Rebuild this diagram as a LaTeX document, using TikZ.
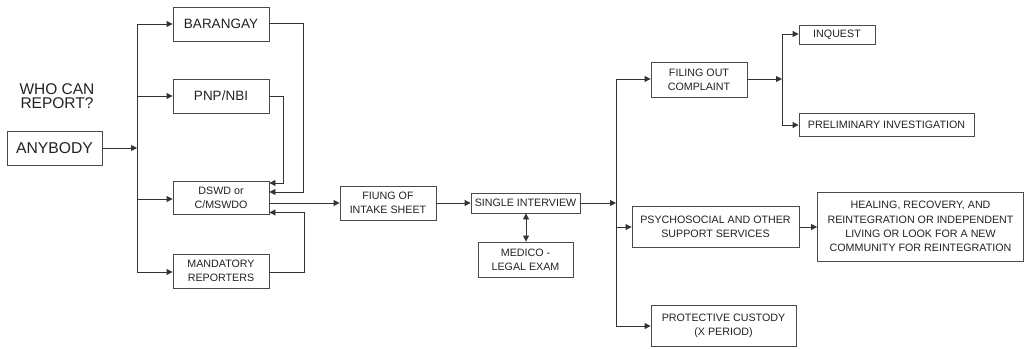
\documentclass[tikz,border=0pt]{standalone}
\usepackage{fontspec}
\setmainfont{Liberation Sans}
\usetikzlibrary{arrows.meta}
\definecolor{ln}{HTML}{333333}
\definecolor{bx}{HTML}{4A4A4A}
\definecolor{tx}{HTML}{222222}
\tikzset{
  box/.style={draw=bx, line width=0.9pt, text=tx, align=center, inner sep=1pt, font=\fontsize{10.7}{14.2}\selectfont},
  bigbox/.style={box, font=\fontsize{13.5}{15}\selectfont},
  conn/.style={draw=ln, line width=0.9pt},
  arr/.style={conn, -{Triangle[length=6pt,width=6pt]}},
  darr/.style={conn, {Triangle[length=6pt,width=6pt]}-{Triangle[length=6pt,width=6pt]}}
}
\begin{document}
\begin{tikzpicture}[x=1pt,y=-1pt]
\useasboundingbox (0,0) rectangle (1025,348);
% left column
\node[box, font=\fontsize{15.7}{17}\selectfont, minimum width=95pt, minimum height=34pt] (anybody) at (54.5,148) {ANYBODY};
\node[text=tx, align=center, font=\fontsize{15.5}{14.2}\selectfont] (who) at (57,96) {WHO CAN\\REPORT?};
\node[bigbox, minimum width=96pt, minimum height=34pt] (barangay) at (221,24) {BARANGAY};
\node[bigbox, minimum width=96pt, minimum height=34pt] (pnp) at (221,96) {PNP/NBI};
\node[box, minimum width=96pt, minimum height=33pt] (dswd) at (221,197.5) {DSWD or\\C/MSWDO};
\node[box, minimum width=96pt, minimum height=34pt] (mand) at (221,271) {MANDATORY\\REPORTERS};
% middle
\node[box, minimum width=96pt, minimum height=34pt] (fiung) at (388,203) {FIUNG OF\\INTAKE SHEET};
\node[box, minimum width=109pt, minimum height=20pt] (single) at (525.5,203) {SINGLE INTERVIEW};
\node[box, minimum width=95pt, minimum height=35pt] (medico) at (525.5,259.5) {MEDICO -\\LEGAL EXAM};
% right
\node[box, minimum width=96pt, minimum height=35pt] (filing) at (699,79.5) {FILING OUT\\COMPLAINT};
\node[box, minimum width=76pt, minimum height=19pt] (inquest) at (837,34.5) {INQUEST};
\node[box, minimum width=175pt, minimum height=23pt] (prelim) at (886.5,124.5) {PRELIMINARY INVESTIGATION};
\node[box, minimum width=167pt, minimum height=41pt] (psycho) at (715.5,226.5) {PSYCHOSOCIAL AND OTHER\\SUPPORT SERVICES};
\node[box, minimum width=206pt, minimum height=69pt] (healing) at (920.5,226.5) {HEALING, RECOVERY, AND\\REINTEGRATION OR INDEPENDENT\\LIVING OR LOOK FOR A NEW\\COMMUNITY FOR REINTEGRATION};
\node[box, minimum width=145pt, minimum height=41pt] (protect) at (723.5,326) {PROTECTIVE CUSTODY\\(X PERIOD)};
% bus coordinates
\coordinate (b1) at (137,24);
\coordinate (b2) at (137,96);
\coordinate (b3) at (137,148);
\coordinate (b4) at (137,199);
\coordinate (b5) at (137,272);
\coordinate (r1) at (303,23);
\coordinate (r2) at (283,96);
\coordinate (r3) at (304,272);
\coordinate (c1) at (616,79);
\coordinate (c2) at (616,203);
\coordinate (c3) at (616,227);
\coordinate (c4) at (616,326);
\coordinate (d1) at (782,34);
\coordinate (d2) at (782,79);
\coordinate (d3) at (782,125);
% left connectors
\draw[arr] (anybody) -- (b3);
\draw[conn] (b1) -- (b5);
\draw[arr] (b1) -- (b1 -| barangay.west);
\draw[arr] (b2) -- (b2 -| pnp.west);
\draw[arr] (b4) -- (b4 -| dswd.west);
\draw[arr] (b5) -- (b5 -| mand.west);
\draw[arr] (r1 -| barangay.east) -- (r1) |- (dswd.east |- 0,192);
\draw[arr] (r2 -| pnp.east) -- (r2) |- (dswd.east |- 0,183);
\draw[arr] (r3 -| mand.east) -- (r3) |- (dswd.east |- 0,212.5);
% middle connectors
\draw[arr] (dswd.east |- 0,203) -- (fiung.west |- 0,203);
\draw[arr] (fiung) -- (single);
\draw[darr] (single.south -| 526,0) -- (medico.north -| 526,0);
\draw[arr] (single) -- (c2);
% right connectors
\draw[conn] (c1) -- (c4);
\draw[arr] (c1) -- (c1 -| filing.west);
\draw[arr] (c3) -- (c3 -| psycho.west);
\draw[arr] (c4) -- (c4 -| protect.west);
\draw[arr] (filing.east |- d2) -- (d2);
\draw[conn] (d1) -- (d3);
\draw[arr] (d1) -- (d1 -| inquest.west);
\draw[arr] (d3) -- (d3 -| prelim.west);
\draw[arr] (psycho.east |- 0,227) -- (healing.west |- 0,227);
\end{tikzpicture}
\end{document}
